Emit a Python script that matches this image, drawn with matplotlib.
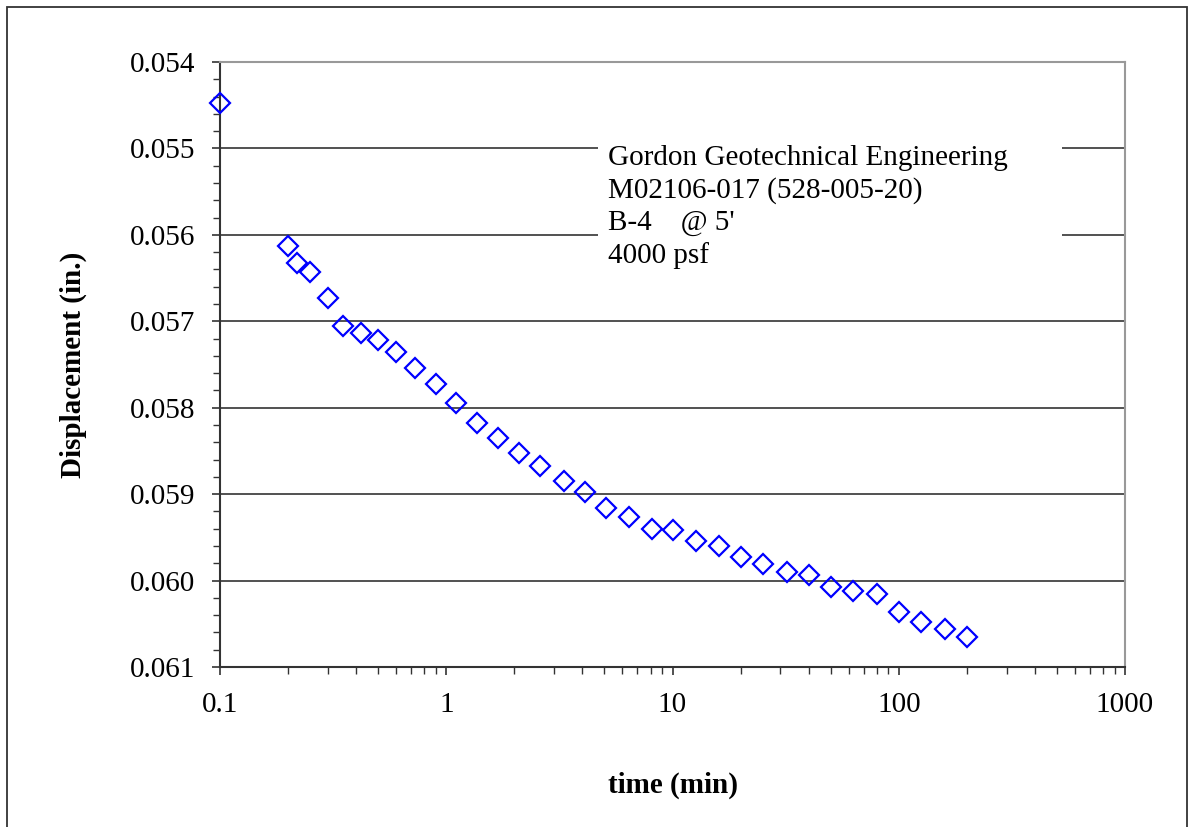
import matplotlib
matplotlib.use("Agg")
import matplotlib.pyplot as plt
from matplotlib.patches import Rectangle
from matplotlib.ticker import FixedLocator, FuncFormatter, LogLocator, NullFormatter

# datos (tiempo en min, desplazamiento en pulgadas)
tiempo = [0.1, 0.2, 0.22, 0.25, 0.3, 0.35, 0.42, 0.5, 0.6, 0.73, 0.9,
          1.1, 1.37, 1.7, 2.1, 2.6, 3.3, 4.1, 5.1, 6.4, 8.1,
          10, 12.7, 16, 20, 25, 32, 40, 50, 63, 80,
          100, 126, 160, 200]
desplazamiento = [0.05448, 0.05613, 0.05632, 0.05643, 0.05673, 0.05706, 0.05713,
                  0.05722, 0.05735, 0.05754, 0.05773,
                  0.05794, 0.05818, 0.05835, 0.05852, 0.05868, 0.05885, 0.05898,
                  0.05916, 0.05926, 0.05940,
                  0.05942, 0.05954, 0.05960, 0.05973, 0.05981, 0.05990, 0.05994,
                  0.06007, 0.06012, 0.06016,
                  0.06036, 0.06048, 0.06056, 0.06065]

y_ticks = [0.054, 0.055, 0.056, 0.057, 0.058, 0.059, 0.060, 0.061]
x_ticks = [0.1, 1, 10, 100, 1000]
x_labels = ["0.1", "1", "10", "100", "1000"]
nota = ["Gordon Geotechnical Engineering", "M02106-017 (528-005-20)",
        "B-4    @ 5'", "4000 psf"]

plt.rcParams['font.family'] = ['Liberation Serif', 'DejaVu Serif']
fs = 21

fig = plt.figure(figsize=(11.94, 8.27), dpi=100)
ax = fig.add_axes([220 / 1194, 1 - 667 / 827, 905 / 1194, 605 / 827])

# marco exterior de la figura
fig.patches.append(Rectangle((7 / 1194, -0.05), 1180 / 1194, 1.05 - 7 / 827,
                             transform=fig.transFigure, fill=False,
                             edgecolor='#333333', linewidth=1.3))

ax.plot(tiempo, desplazamiento, linestyle='none', marker='D', markersize=10,
        markerfacecolor='none', markeredgecolor='#0000ff', markeredgewidth=1.6,
        clip_on=False, zorder=5)

ax.set_xscale('log')
ax.set_xlim(0.1, 1000)
ax.set_ylim(0.061, 0.054)

ax.xaxis.set_major_locator(FixedLocator(x_ticks))
ax.xaxis.set_major_formatter(FuncFormatter(lambda v, p: x_labels[x_ticks.index(v)] if v in x_ticks else ""))
ax.xaxis.set_minor_locator(LogLocator(base=10, subs=range(2, 10)))
ax.xaxis.set_minor_formatter(NullFormatter())

ax.yaxis.set_major_locator(FixedLocator(y_ticks))
ax.yaxis.set_major_formatter(FuncFormatter(lambda v, p: f"{v:.3f}"))
ax.yaxis.set_minor_locator(FixedLocator([0.054 + i * 0.0002 for i in range(36)]))

ax.grid(axis='y', which='major', color='#333333', linewidth=1.2)
ax.set_axisbelow(True)

ax.tick_params(axis='both', which='major', direction='out', length=6, width=1.2,
               labelsize=fs, color='#333333')
ax.tick_params(axis='both', which='minor', direction='out', length=5, width=1.0,
               color='#333333')
ax.tick_params(axis='y', which='major', pad=12)
ax.tick_params(axis='x', which='major', pad=12)

for lado in ['left', 'bottom']:
    ax.spines[lado].set_color('#333333')
    ax.spines[lado].set_linewidth(1.5)
for lado in ['top', 'right']:
    ax.spines[lado].set_color('#999999')
    ax.spines[lado].set_linewidth(1.5)

ax.set_xlabel("time (min)", fontsize=fs, fontweight='bold')
ax.set_ylabel("Displacement (in.)", fontsize=fs, fontweight='bold')
ax.xaxis.set_label_coords(0.5, -0.173)
ax.yaxis.set_label_coords(-0.147, 0.5)

# recuadro blanco del texto
ax.add_patch(Rectangle((0.418, 0.63), 0.512, 0.25, transform=ax.transAxes,
                       facecolor='white', edgecolor='none', zorder=3))
ax.text(0.4287, 0.862, "\n".join(nota), transform=ax.transAxes, fontsize=fs,
        ha='left', va='top', linespacing=1.29, zorder=4)

fig.savefig("out.png", dpi=100)
